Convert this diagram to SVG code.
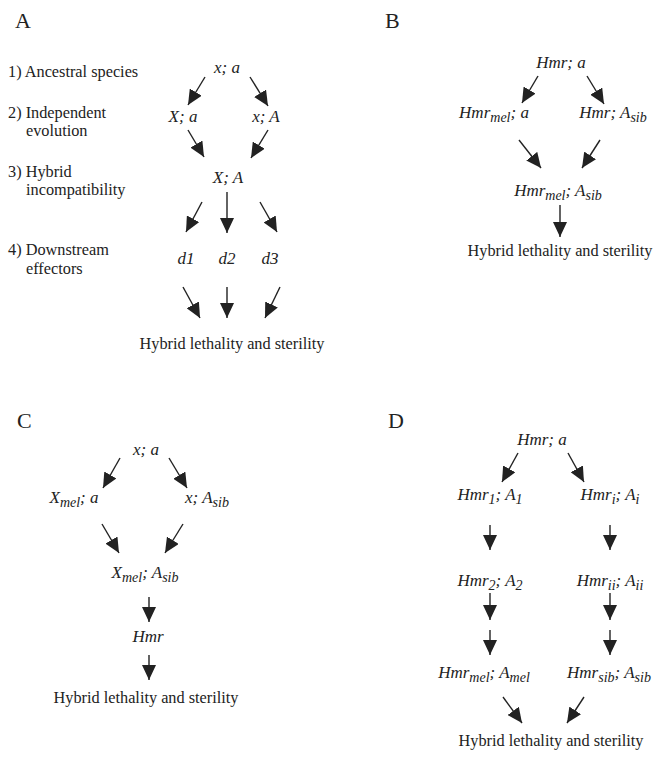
<svg xmlns="http://www.w3.org/2000/svg" width="655" height="758" viewBox="0 0 655 758" font-family="'Liberation Serif', 'DejaVu Serif', serif">
<style>
text{font-family:'Liberation Serif','DejaVu Serif',serif;fill:#222;}
.lab{font-size:22px;}
.t{font-size:16.3px;}
.i{font-size:17px;font-style:italic;text-anchor:middle;}
.s{font-size:14px;}
.c{text-anchor:middle;}
.e{stroke:#222;stroke-width:1.4;fill:none;marker-end:url(#ah);}
</style>
<defs>
<marker id="ah" markerUnits="userSpaceOnUse" markerWidth="16" markerHeight="14" refX="15" refY="7" orient="auto" viewBox="0 0 16 14">
<path d="M0,0 L15,7 L0,14 z" fill="#222"/>
</marker>
</defs>
<rect width="655" height="758" fill="#fff"/>

<!-- Panel A -->
<g id="labelA"><text class="lab" x="15" y="28">A</text></g>
<g id="stepsA">
<text class="t" x="8" y="77">1) Ancestral species</text>
<text class="t" x="8" y="118">2) Independent</text>
<text class="t" x="26" y="136">evolution</text>
<text class="t" x="8" y="177">3) Hybrid</text>
<text class="t" x="26" y="195">incompatibility</text>
<text class="t" x="8" y="255">4) Downstream</text>
<text class="t" x="26" y="274">effectors</text>
</g>
<g id="A_xa"><text class="i" x="227" y="73">x; a</text></g>
<g id="A_Xa"><text class="i" x="183" y="122">X; a</text></g>
<g id="A_xA"><text class="i" x="266" y="122">x; A</text></g>
<g id="A_XA"><text class="i" x="228" y="183">X; A</text></g>
<g id="A_d1"><text class="i" x="186" y="264">d1</text></g>
<g id="A_d2"><text class="i" x="227" y="264">d2</text></g>
<g id="A_d3"><text class="i" x="270" y="264">d3</text></g>
<g id="A_out"><text class="t c" x="232" y="349">Hybrid lethality and sterility</text></g>

<!-- Panel B -->
<g id="labelB"><text class="lab" x="385" y="28">B</text></g>
<g id="B_top"><text class="i" x="561" y="68">Hmr; a</text></g>
<g id="B_mel"><text class="i" x="494" y="118">Hmr<tspan class="s" dy="4">mel</tspan><tspan dy="-4">; a</tspan></text></g>
<g id="B_sib"><text class="i" x="613" y="118">Hmr; A<tspan class="s" dy="4">sib</tspan></text></g>
<g id="B_hyb"><text class="i" x="558" y="196">Hmr<tspan class="s" dy="4">mel</tspan><tspan dy="-4">; A</tspan><tspan class="s" dy="4">sib</tspan></text></g>
<g id="B_out"><text class="t c" x="560" y="256">Hybrid lethality and sterility</text></g>

<!-- Panel C -->
<g id="labelC"><text class="lab" x="17" y="428">C</text></g>
<g id="C_top"><text class="i" x="146" y="455">x; a</text></g>
<g id="C_mel"><text class="i" x="74" y="503">X<tspan class="s" dy="4">mel</tspan><tspan dy="-4">; a</tspan></text></g>
<g id="C_sib"><text class="i" x="207" y="503">x; A<tspan class="s" dy="4">sib</tspan></text></g>
<g id="C_hyb"><text class="i" x="145" y="578">X<tspan class="s" dy="4">mel</tspan><tspan dy="-4">; A</tspan><tspan class="s" dy="4">sib</tspan></text></g>
<g id="C_hmr"><text class="i" x="148" y="642">Hmr</text></g>
<g id="C_out"><text class="t c" x="146" y="703">Hybrid lethality and sterility</text></g>

<!-- Panel D -->
<g id="labelD"><text class="lab" x="388" y="428">D</text></g>
<g id="D_top"><text class="i" x="542" y="445">Hmr; a</text></g>
<g id="D_1"><text class="i" x="490" y="500">Hmr<tspan class="s" dy="4">1</tspan><tspan dy="-4">; A</tspan><tspan class="s" dy="4">1</tspan></text></g>
<g id="D_i"><text class="i" x="610" y="500">Hmr<tspan class="s" dy="4">i</tspan><tspan dy="-4">; A</tspan><tspan class="s" dy="4">i</tspan></text></g>
<g id="D_2"><text class="i" x="490" y="586">Hmr<tspan class="s" dy="4">2</tspan><tspan dy="-4">; A</tspan><tspan class="s" dy="4">2</tspan></text></g>
<g id="D_ii"><text class="i" x="610" y="586">Hmr<tspan class="s" dy="4">ii</tspan><tspan dy="-4">; A</tspan><tspan class="s" dy="4">ii</tspan></text></g>
<g id="D_mel"><text class="i" x="484" y="678">Hmr<tspan class="s" dy="4">mel</tspan><tspan dy="-4">; A</tspan><tspan class="s" dy="4">mel</tspan></text></g>
<g id="D_sib"><text class="i" x="609" y="678">Hmr<tspan class="s" dy="4">sib</tspan><tspan dy="-4">; A</tspan><tspan class="s" dy="4">sib</tspan></text></g>
<g id="D_out"><text class="t c" x="551" y="746">Hybrid lethality and sterility</text></g>

<g id="connectors">
<!-- A -->
<line class="e" x1="205" y1="77" x2="188" y2="105"/>
<line class="e" x1="250" y1="77" x2="268" y2="106"/>
<line class="e" x1="188" y1="130" x2="204" y2="157"/>
<line class="e" x1="268" y1="130" x2="251" y2="158"/>
<line class="e" x1="202" y1="202" x2="186" y2="232"/>
<line class="e" x1="227" y1="192" x2="227" y2="233"/>
<line class="e" x1="260" y1="202" x2="277" y2="232"/>
<line class="e" x1="183" y1="287" x2="200" y2="318"/>
<line class="e" x1="227" y1="287" x2="227" y2="318"/>
<line class="e" x1="280" y1="287" x2="265" y2="318"/>
<!-- B -->
<line class="e" x1="538" y1="76" x2="522" y2="103"/>
<line class="e" x1="587" y1="76" x2="604" y2="104"/>
<line class="e" x1="519" y1="140" x2="541" y2="168"/>
<line class="e" x1="600" y1="140" x2="582" y2="168"/>
<line class="e" x1="560" y1="205" x2="560" y2="237"/>
<!-- C -->
<line class="e" x1="120" y1="458" x2="103" y2="488"/>
<line class="e" x1="169" y1="458" x2="187" y2="488"/>
<line class="e" x1="102" y1="524" x2="119" y2="553"/>
<line class="e" x1="183" y1="524" x2="165" y2="553"/>
<line class="e" x1="149" y1="597" x2="149" y2="622"/>
<line class="e" x1="149" y1="655" x2="149" y2="680"/>
<!-- D -->
<line class="e" x1="518" y1="453" x2="502" y2="482"/>
<line class="e" x1="568" y1="453" x2="584" y2="482"/>
<line class="e" x1="490" y1="525" x2="490" y2="550"/>
<line class="e" x1="610" y1="525" x2="610" y2="550"/>
<line class="e" x1="490" y1="593" x2="490" y2="620"/>
<line class="e" x1="610" y1="593" x2="610" y2="620"/>
<line class="e" x1="490" y1="630" x2="490" y2="655"/>
<line class="e" x1="610" y1="630" x2="610" y2="655"/>
<line class="e" x1="503" y1="697" x2="522" y2="723"/>
<line class="e" x1="584" y1="697" x2="567" y2="723"/>
</g>
</svg>
